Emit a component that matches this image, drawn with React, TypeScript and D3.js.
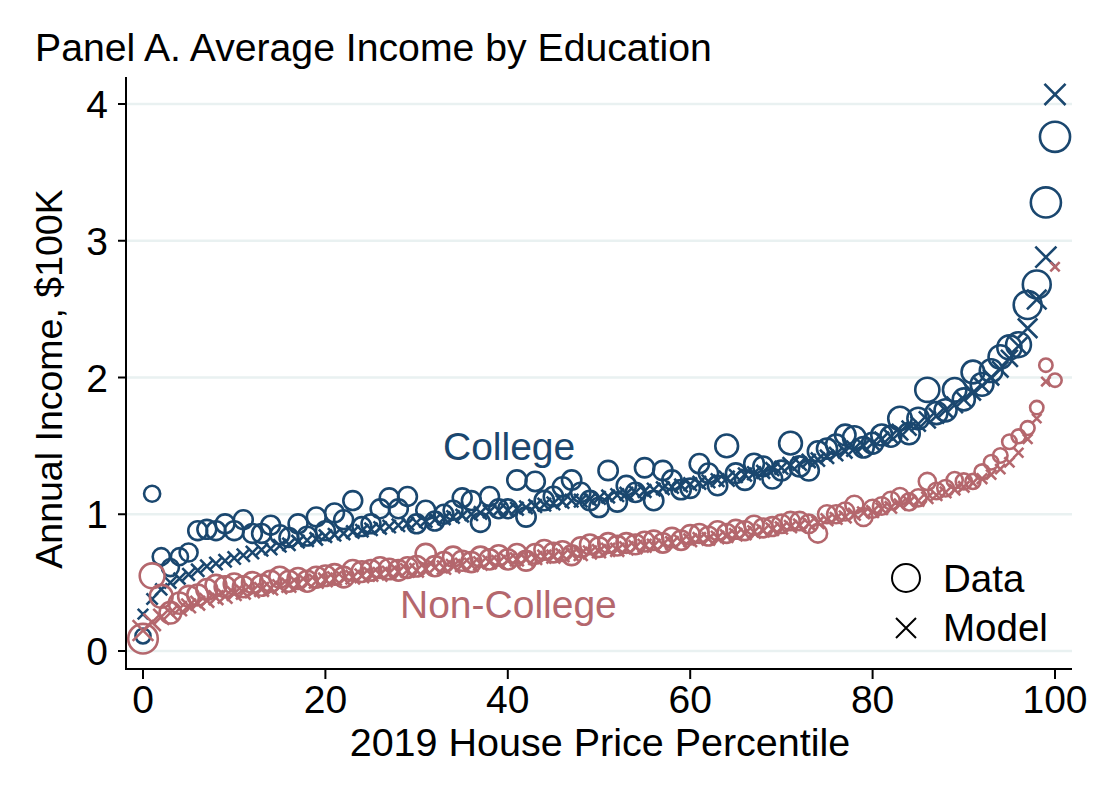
import React from "react";
import * as d3 from "d3";

const percentiles: number[] = d3.range(0, 101);

const collegeData: number[] = [
  0.11, 1.15, 0.69, 0.61, 0.69, 0.72, 0.88, 0.89, 0.88, 0.93,
  0.88, 0.96, 0.86, 0.86, 0.92, 0.85, 0.83, 0.93, 0.84, 0.98,
  0.88, 1.01, 0.96, 1.10, 0.91, 0.93, 1.04, 1.12, 1.04, 1.13,
  0.93, 1.03, 0.95, 1.00, 1.03, 1.12, 1.10, 0.94, 1.13, 1.04,
  1.04, 1.25, 0.98, 1.24, 1.10, 1.13, 1.20, 1.25, 1.16, 1.10,
  1.05, 1.32, 1.09, 1.21, 1.16, 1.34, 1.10, 1.32, 1.25, 1.18,
  1.19, 1.37, 1.30, 1.21, 1.50, 1.30, 1.25, 1.37, 1.35, 1.26,
  1.32, 1.52, 1.35, 1.32, 1.46, 1.48, 1.51, 1.58, 1.56, 1.49,
  1.52, 1.58, 1.57, 1.70, 1.59, 1.70, 1.91, 1.74, 1.76, 1.91,
  1.84, 2.04, 1.95, 2.05, 2.15, 2.22, 2.24, 2.53, 2.68, 3.28,
  3.76,
];

const collegeModel: number[] = [
  0.27, 0.38, 0.45, 0.50, 0.53, 0.56, 0.59, 0.62, 0.64, 0.66,
  0.68, 0.70, 0.72, 0.74, 0.75, 0.77, 0.78, 0.80, 0.81, 0.82,
  0.84, 0.85, 0.86, 0.87, 0.88, 0.89, 0.90, 0.91, 0.92, 0.93,
  0.94, 0.95, 0.96, 0.97, 0.98, 0.99, 1.00, 1.01, 1.02, 1.03,
  1.03, 1.04, 1.05, 1.06, 1.07, 1.08, 1.09, 1.10, 1.10, 1.11,
  1.12, 1.13, 1.14, 1.15, 1.16, 1.17, 1.18, 1.19, 1.20, 1.21,
  1.22, 1.23, 1.24, 1.25, 1.26, 1.28, 1.29, 1.30, 1.31, 1.33,
  1.34, 1.36, 1.37, 1.39, 1.40, 1.42, 1.44, 1.46, 1.48, 1.50,
  1.52, 1.55, 1.57, 1.60, 1.63, 1.66, 1.69, 1.72, 1.76, 1.80,
  1.84, 1.89, 1.94, 2.00, 2.06, 2.14, 2.23, 2.36, 2.57, 2.88,
  4.07,
];

const nonCollegeData: number[] = [
  0.09, 0.55, 0.40, 0.28, 0.35, 0.40, 0.41, 0.45, 0.48, 0.47,
  0.49, 0.47, 0.50, 0.48, 0.51, 0.54, 0.51, 0.53, 0.51, 0.54,
  0.55, 0.56, 0.54, 0.59, 0.58, 0.59, 0.61, 0.60, 0.59, 0.61,
  0.62, 0.71, 0.62, 0.65, 0.69, 0.66, 0.65, 0.69, 0.67, 0.70,
  0.67, 0.71, 0.66, 0.71, 0.74, 0.72, 0.73, 0.70, 0.76, 0.78,
  0.76, 0.79, 0.77, 0.79, 0.78, 0.80, 0.81, 0.79, 0.83, 0.81,
  0.85, 0.86, 0.84, 0.88, 0.86, 0.89, 0.88, 0.92, 0.90, 0.91,
  0.93, 0.95, 0.95, 0.93, 0.86, 1.00, 1.00, 1.02, 1.07, 0.98,
  1.04, 1.06, 1.10, 1.13, 1.09, 1.12, 1.24, 1.17, 1.19, 1.25,
  1.24, 1.24, 1.31, 1.38, 1.43, 1.53, 1.57, 1.63, 1.78, 2.09,
  1.98,
];

const nonCollegeModel: number[] = [
  0.15, 0.21, 0.25, 0.28, 0.31, 0.33, 0.35, 0.37, 0.39, 0.40,
  0.42, 0.43, 0.44, 0.45, 0.46, 0.47, 0.48, 0.49, 0.50, 0.51,
  0.52, 0.53, 0.53, 0.54, 0.55, 0.56, 0.56, 0.57, 0.58, 0.59,
  0.59, 0.60, 0.61, 0.61, 0.62, 0.63, 0.63, 0.64, 0.65, 0.65,
  0.66, 0.67, 0.67, 0.68, 0.69, 0.69, 0.70, 0.71, 0.71, 0.72,
  0.73, 0.74, 0.74, 0.75, 0.76, 0.77, 0.77, 0.78, 0.79, 0.80,
  0.81, 0.82, 0.82, 0.83, 0.84, 0.85, 0.86, 0.87, 0.88, 0.89,
  0.90, 0.91, 0.92, 0.93, 0.94, 0.96, 0.97, 0.98, 1.00, 1.01,
  1.02, 1.04, 1.05, 1.07, 1.09, 1.10, 1.12, 1.14, 1.16, 1.18,
  1.20, 1.23, 1.26, 1.29, 1.33, 1.38, 1.45, 1.55, 1.70, 1.97,
  2.81,
];

// relative marker weights (population share proxy)
const collegeWeight: number[] = [
  0.7, 0.8, 0.9, 0.9, 0.9, 1.0, 1.1, 1.1, 1.1, 1.1,
  1.1, 1.1, 1.1, 1.1, 1.1, 1.1, 1.1, 1.1, 1.1, 1.1,
  1.1, 1.1, 1.1, 1.1, 1.1, 1.1, 1.1, 1.1, 1.1, 1.1,
  1.1, 1.1, 1.1, 1.1, 1.1, 1.1, 1.1, 1.1, 1.1, 1.1,
  1.1, 1.15, 1.15, 1.15, 1.15, 1.15, 1.15, 1.15, 1.15, 1.15,
  1.15, 1.15, 1.15, 1.15, 1.15, 1.15, 1.15, 1.15, 1.15, 1.15,
  1.15, 1.15, 1.15, 1.15, 1.6, 1.2, 1.2, 1.2, 1.2, 1.2,
  1.2, 1.6, 1.25, 1.25, 1.25, 1.25, 1.25, 1.3, 1.6, 1.3,
  1.35, 1.35, 1.35, 1.7, 1.4, 1.45, 1.8, 1.5, 1.5, 1.7,
  1.5, 1.6, 1.6, 1.6, 1.7, 1.8, 1.9, 2.4, 2.4, 2.8,
  2.8,
];

const nonCollegeWeight: number[] = [
  2.7, 1.9, 1.6, 1.45, 1.4, 1.35, 1.35, 1.35, 1.35, 1.35,
  1.35, 1.35, 1.35, 1.35, 1.35, 1.35, 1.35, 1.35, 1.35, 1.35,
  1.3, 1.3, 1.3, 1.3, 1.3, 1.3, 1.3, 1.3, 1.3, 1.3,
  1.3, 1.25, 1.25, 1.25, 1.25, 1.25, 1.25, 1.25, 1.25, 1.25,
  1.25, 1.2, 1.2, 1.2, 1.2, 1.2, 1.2, 1.2, 1.2, 1.2,
  1.2, 1.2, 1.2, 1.2, 1.2, 1.2, 1.15, 1.15, 1.15, 1.15,
  1.15, 1.1, 1.1, 1.1, 1.1, 1.1, 1.1, 1.1, 1.1, 1.1,
  1.05, 1.05, 1.05, 1.05, 1.05, 1.0, 1.0, 1.0, 1.0, 1.0,
  1.0, 0.95, 0.95, 0.9, 0.9, 0.9, 0.9, 0.85, 0.85, 0.8,
  0.8, 0.7, 0.7, 0.65, 0.65, 0.65, 0.6, 0.6, 0.55, 0.55,
  0.55,
];

const xTicks: number[] = [0, 20, 40, 60, 80, 100];
const yTicks: number[] = [0, 1, 2, 3, 4];

const NAVY = "#1a476f";
const ROSE = "#b4676d";
const GRID = "#e9f1f1";
const FONT = "'Liberation Sans', Arial, Helvetica, sans-serif";

export default function App() {
  const W = 1100;
  const H = 800;
  const x = d3.scaleLinear().domain([0, 100]).range([143, 1055]);
  const y = d3.scaleLinear().domain([0, 4]).range([651, 104]);
  const rScale = d3.scaleSqrt().domain([0, 1]).range([0, 9]);
  const xSize = d3.scaleSqrt().domain([0, 1]).range([0, 6.3]);

  const axisLeft = 126;
  const axisBottom = 669;
  const axisRight = 1072;
  const axisTop = 77;

  const cross = (cx: number, cy: number, h: number) =>
    `M${cx - h},${cy - h}L${cx + h},${cy + h}M${cx - h},${cy + h}L${cx + h},${cy - h}`;

  const circles = (vals: number[], w: number[], color: string, key: string) =>
    percentiles.map((p, i) => (
      <circle
        key={key + i}
        cx={x(p)}
        cy={y(vals[i])}
        r={rScale(w[i])}
        fill="none"
        stroke={color}
        strokeWidth={2.6}
      />
    ));

  const crosses = (vals: number[], w: number[], color: string, key: string) =>
    percentiles.map((p, i) => (
      <path
        key={key + i}
        d={cross(x(p), y(vals[i]), xSize(w[i]))}
        fill="none"
        stroke={color}
        strokeWidth={2.6}
      />
    ));

  return (
    <svg
      width={W}
      height={H}
      style={{ position: "absolute", left: 0, top: 0, background: "#fff" }}
      fontFamily={FONT}
    >
      <rect x={0} y={0} width={W} height={H} fill="#fff" />
      {/* gridlines */}
      {yTicks.map((t) => (
        <line
          key={"g" + t}
          x1={axisLeft + 1}
          x2={axisRight}
          y1={y(t)}
          y2={y(t)}
          stroke={GRID}
          strokeWidth={2.5}
        />
      ))}

      {/* marks */}
      {circles(collegeData, collegeWeight, NAVY, "cd")}
      {crosses(collegeModel, collegeWeight, NAVY, "cm")}
      {circles(nonCollegeData, nonCollegeWeight, ROSE, "nd")}
      {crosses(nonCollegeModel, nonCollegeWeight, ROSE, "nm")}

      {/* axes */}
      <line x1={axisLeft} x2={axisLeft} y1={axisTop} y2={axisBottom + 1} stroke="#000" strokeWidth={2} />
      <line x1={axisLeft - 1} x2={axisRight} y1={axisBottom} y2={axisBottom} stroke="#000" strokeWidth={2} />
      {yTicks.map((t) => (
        <g key={"yt" + t}>
          <line x1={axisLeft - 8} x2={axisLeft} y1={y(t)} y2={y(t)} stroke="#000" strokeWidth={2} />
          <text x={axisLeft - 18} y={y(t) + 14} textAnchor="end" fontSize={39} fill="#000">
            {t}
          </text>
        </g>
      ))}
      {xTicks.map((t) => (
        <g key={"xt" + t}>
          <line x1={x(t)} x2={x(t)} y1={axisBottom} y2={axisBottom + 10} stroke="#000" strokeWidth={2} />
          <text x={x(t)} y={713} textAnchor="middle" fontSize={39} fill="#000">
            {t}
          </text>
        </g>
      ))}

      {/* axis titles */}
      <text x={600} y={756} textAnchor="middle" fontSize={39.5} fill="#000">
        2019 House Price Percentile
      </text>
      <text
        transform={`translate(62,379) rotate(-90)`}
        textAnchor="middle"
        fontSize={37.5}
        fill="#000"
      >
        Annual Income, $100K
      </text>

      {/* title */}
      <text x={35} y={61} fontSize={39.2} fill="#000">
        Panel A. Average Income by Education
      </text>

      {/* series labels */}
      <text x={443} y={460} fontSize={39} fill={NAVY}>
        College
      </text>
      <text x={400} y={618} fontSize={39} fill={ROSE}>
        Non-College
      </text>

      {/* legend */}
      <circle cx={906} cy={578} r={14} fill="none" stroke="#000" strokeWidth={2} />
      <text x={943} y={592} fontSize={38.5} fill="#000">
        Data
      </text>
      <path d={cross(906, 628, 10)} fill="none" stroke="#000" strokeWidth={2} />
      <text x={943} y={641} fontSize={38.5} fill="#000">
        Model
      </text>
    </svg>
  );
}
